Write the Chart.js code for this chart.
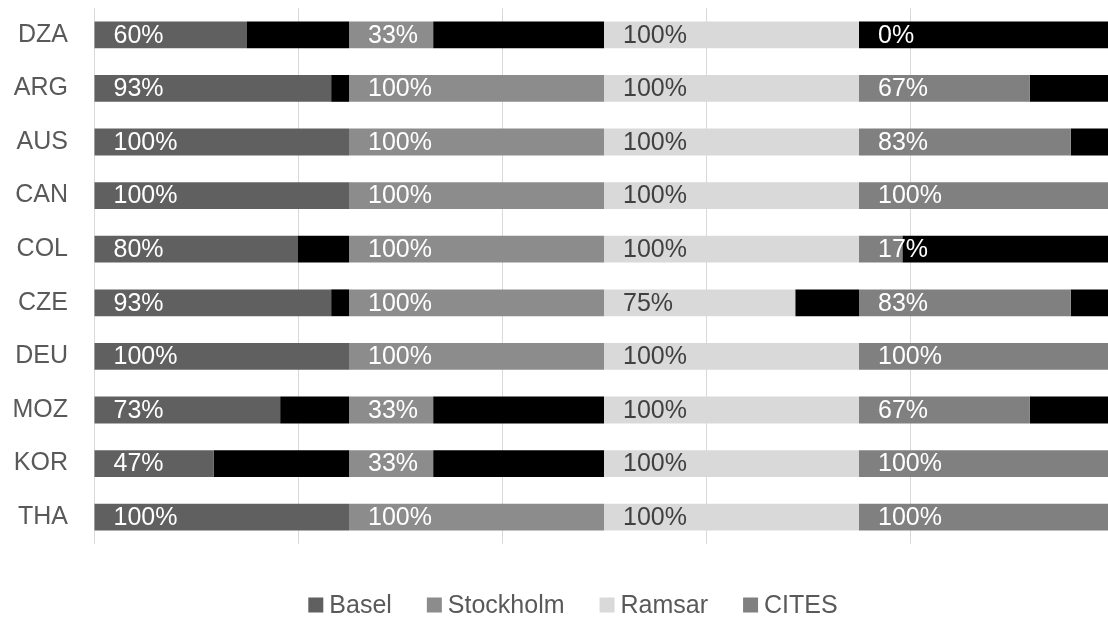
<!DOCTYPE html>
<html>
<head>
<meta charset="utf-8">
<script src="https://cdn.jsdelivr.net/npm/chart.js@4/dist/chart.umd.min.js"></script>
<style>
  html, body { margin: 0; padding: 0; background: #fff; overflow: hidden; }
  #wrap { width: 1147px; height: 619px; }
</style>
</head>
<body>
<div id="wrap"><canvas id="compliance-chart" width="1147" height="619"></canvas></div>
<script>
// countries and share of obligations met per convention (%)
const countries = ['DZA', 'ARG', 'AUS', 'CAN', 'COL', 'CZE', 'DEU', 'MOZ', 'KOR', 'THA'];
const basel     = [60, 93, 100, 100, 80, 93, 100, 73, 47, 100];
const stockholm = [33, 100, 100, 100, 100, 100, 100, 33, 33, 100];
const ramsar    = [100, 100, 100, 100, 100, 75, 100, 100, 100, 100];
const cites     = [0, 67, 83, 100, 17, 83, 100, 67, 100, 100];

const conventions = ['Basel', 'Stockholm', 'Ramsar', 'CITES'];
const series = [basel, stockholm, ramsar, cites];

const fills = ['#606060', '#8c8c8c', '#d9d9d9', '#808080'];
const labelColors = ['#ffffff', '#ffffff', '#404040', '#ffffff'];
const FONT = "'Liberation Sans', Arial, Helvetica, sans-serif";

// every convention gets the same slot on the axis, split into met / not met
const SLOT = 1.25;

const datasets = [];
series.forEach((vals, k) => {
    datasets.push({
        label: conventions[k],
        data: vals.map(v => v / 100 * SLOT),
        backgroundColor: fills[k],
        pct: vals,
        textColor: labelColors[k],
        stack: 'all'
    });
    datasets.push({
        label: conventions[k] + ' (not met)',
        data: vals.map(v => SLOT - v / 100 * SLOT),
        backgroundColor: '#000000',
        isGap: true,
        stack: 'all'
    });
});

// percent text at the left of each coloured segment
const segmentLabels = {
    id: 'segmentLabels',
    afterDatasetsDraw(chart) {
        const ctx = chart.ctx;
        ctx.save();
        ctx.font = '25px ' + FONT;
        ctx.textBaseline = 'middle';
        ctx.textAlign = 'left';
        chart.data.datasets.forEach((ds, di) => {
            if (ds.isGap) return;
            const meta = chart.getDatasetMeta(di);
            meta.data.forEach((bar, i) => {
                const left = Math.min(bar.base, bar.x);
                ctx.fillStyle = ds.textColor;
                ctx.fillText(ds.pct[i] + '%', left + 19, bar.y + 1);
            });
        });
        ctx.restore();
    }
};

// legend row under the plot: square + name, only for the coloured series
const legendRow = {
    id: 'legendRow',
    afterDraw(chart) {
        const ctx = chart.ctx;
        const box = 15, gapText = 6, gapItem = 35;
        const centerX = 573, centerY = 605;
        ctx.save();
        ctx.font = '25px ' + FONT;
        ctx.textBaseline = 'middle';
        ctx.textAlign = 'left';
        const items = chart.data.datasets.filter(ds => !ds.isGap);
        const widths = items.map(ds => box + gapText + ctx.measureText(ds.label).width);
        const total = widths.reduce((a, b) => a + b, 0) + gapItem * (items.length - 1);
        let x = centerX - total / 2;
        items.forEach((ds, i) => {
            ctx.fillStyle = ds.backgroundColor;
            ctx.fillRect(x, centerY - box / 2, box, box);
            ctx.fillStyle = '#595959';
            ctx.fillText(ds.label, x + box + gapText, centerY + 1);
            x += widths[i] + gapItem;
        });
        ctx.restore();
    }
};

const config = {
    type: 'bar',
    data: {
        labels: countries,
        datasets
    },
    options: {
        indexAxis: 'y',
        responsive: false,
        animation: false,
        devicePixelRatio: 1,
        layout: {
            padding: { top: 8, right: 33, bottom: 75, left: 0 }
        },
        datasets: {
            bar: {
                categoryPercentage: 1,
                barPercentage: 0.5,
                borderWidth: 0
            }
        },
        scales: {
            x: {
                stacked: true,
                min: 0,
                max: 5,
                ticks: { stepSize: 1, display: false },
                grid: { color: '#d9d9d9', lineWidth: 1, drawTicks: false },
                border: { display: false }
            },
            y: {
                stacked: true,
                grid: { display: false, drawTicks: false },
                border: { display: false },
                ticks: {
                    color: '#595959',
                    padding: 26,
                    font: { family: FONT, size: 25 }
                },
                afterFit(scale) {
                    scale.width = 94;
                    scale.paddingTop = 0;
                    scale.paddingBottom = 0;
                }
            }
        },
        plugins: {
            legend: { display: false },
            tooltip: { enabled: false }
        }
    },
    plugins: [segmentLabels, legendRow]
};

const myChart = new Chart(document.getElementById('compliance-chart'), config);
</script>
</body>
</html>
